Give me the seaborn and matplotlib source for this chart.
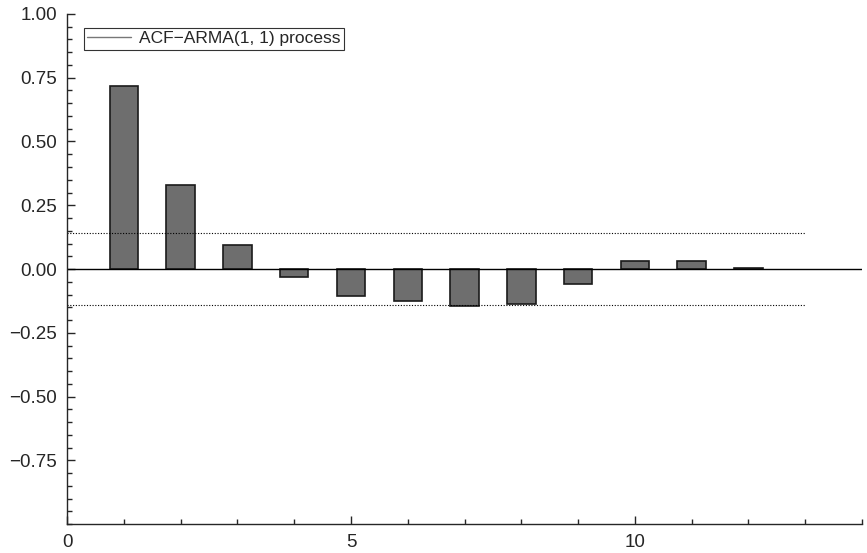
import numpy as np
import pandas as pd
import matplotlib
matplotlib.use('Agg')
import matplotlib.pyplot as plt
from matplotlib.lines import Line2D
from matplotlib.ticker import MultipleLocator
import seaborn as sns

# ACF values
lags = [1, 2, 3, 4, 5, 6, 7, 8, 9, 10, 11, 12]
acf = [0.718, 0.331, 0.095, -0.030, -0.106, -0.125, -0.145, -0.139, -0.058, 0.030, 0.030, 0.004]
conf_band = 0.1414   # +/- 2/sqrt(n)
band_end = 13
label = 'ACF\u2212ARMA(1, 1) process'

sns.set_style('ticks')
plt.rcParams['font.family'] = ['Liberation Sans', 'DejaVu Sans']
plt.rcParams['axes.unicode_minus'] = True

df = pd.DataFrame({'lag': lags, 'acf': acf})

fig = plt.figure(figsize=(8.67, 5.53), dpi=100)
ax = fig.add_axes([0.0773, 0.0524, 0.917, 0.9223])

sns.barplot(data=df, x='lag', y='acf', native_scale=True, width=0.5,
            color='#6e6e6e', edgecolor='#1a1a1a', linewidth=1.2,
            saturation=1, ax=ax)

# zero line and confidence band
ax.axhline(0, color='black', lw=1)
ax.hlines([conf_band, -conf_band], 0, band_end, colors='black',
          linestyles=(0, (1, 1.5)), lw=0.8)

ax.set_xlim(0, 14)
ax.set_ylim(-1, 1)
ax.set_xticks([0, 5, 10])
ax.xaxis.set_minor_locator(MultipleLocator(1))
ax.set_yticks([-0.75, -0.5, -0.25, 0, 0.25, 0.5, 0.75, 1.0])
ax.yaxis.set_minor_locator(MultipleLocator(0.05))
ax.yaxis.set_major_formatter(matplotlib.ticker.FuncFormatter(
    lambda v, p: f'{v:.2f}'.replace('-', '\u2212')))
ax.tick_params(which='major', direction='in', length=6, width=1, labelsize=13.5)
ax.tick_params(axis='x', which='major', pad=7)
ax.tick_params(axis='y', which='major', pad=7)
ax.tick_params(which='minor', direction='in', length=3.5, width=1)
ax.set_xlabel('')
ax.set_ylabel('')
sns.despine(ax=ax)
for s in ['left', 'bottom']:
    ax.spines[s].set_linewidth(1)

handle = Line2D([], [], color='#777777', lw=1)
leg = ax.legend([handle], [label], loc='upper left', bbox_to_anchor=(0.01, 0.99),
                fontsize=12.5, frameon=True, fancybox=False, handlelength=2.5,
                borderpad=0.2, handletextpad=0.5)
leg.get_frame().set_edgecolor('black')
leg.get_frame().set_linewidth(0.8)

fig.savefig('out.png', dpi=100)
